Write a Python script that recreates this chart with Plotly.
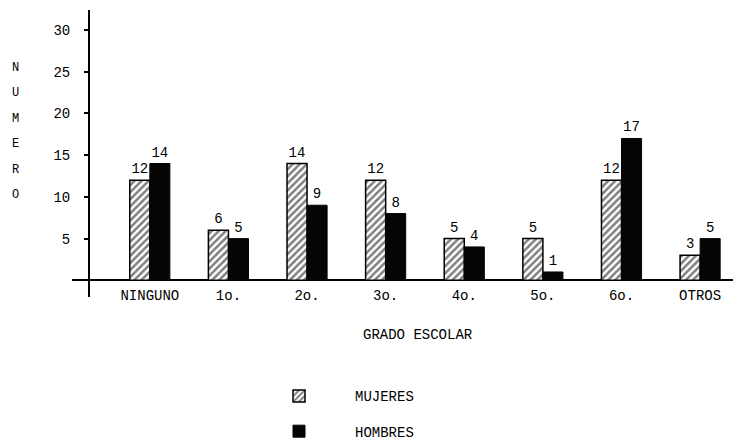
import plotly.graph_objects as go

categories = ["NINGUNO", "1o.", "2o.", "3o.", "4o.", "5o.", "6o.", "OTROS"]
mujeres = [12, 6, 14, 12, 5, 5, 12, 3]
hombres = [14, 5, 9, 8, 4, 1, 17, 5]
y_ticks = [5, 10, 15, 20, 25, 30]
y_title_letters = list("NUMERO")

FONT = "Liberation Mono"
INK = "#000"
OFF = 8                      # page offset from the default body margin
W, H = 741 - OFF, 444 - OFF
plot_top, plot_bottom = 10 - OFF, 296.7 - OFF
plot_h = plot_bottom - plot_top


def px_x(p):
    return (p - OFF) / W


def px_y(p):
    return (plot_bottom - (p - OFF)) / plot_h


fig = go.Figure()
fig.add_trace(go.Bar(
    name="MUJERES", x=categories, y=mujeres,
    text=[str(v) for v in mujeres], textposition="outside",
    textfont=dict(family=FONT, size=14, color=INK),
    marker=dict(color="white", line=dict(color=INK, width=1.5),
                pattern=dict(shape="/", fgcolor=INK, bgcolor="white", size=5, solidity=0.5)),
    cliponaxis=False, legendgroup="m",
))
fig.add_trace(go.Bar(
    name="HOMBRES", x=categories, y=hombres,
    text=[str(v) for v in hombres], textposition="outside",
    textfont=dict(family=FONT, size=14, color=INK),
    marker=dict(color="#050505", line=dict(color="#050505", width=1)),
    cliponaxis=False, legendgroup="h",
))

annotations = []
for i, ch in enumerate(y_title_letters):
    annotations.append(dict(
        text=ch, xref="paper", yref="paper", x=px_x(15), y=px_y(68 + 25.4 * i),
        showarrow=False, xanchor="center", yanchor="middle",
        font=dict(family=FONT, size=12, color=INK),
    ))
annotations.append(dict(
    text="GRADO ESCOLAR", xref="paper", yref="paper", x=px_x(418), y=px_y(335),
    showarrow=False, xanchor="center", yanchor="middle",
    font=dict(family=FONT, size=14, color=INK),
))

fig.update_layout(
    width=W, height=H,
    margin=dict(l=0, r=0, t=plot_top, b=H - plot_bottom, autoexpand=False),
    plot_bgcolor="white", paper_bgcolor="white",
    barmode="group", bargap=0.49, bargroupgap=0,
    font=dict(family=FONT, size=14, color=INK),
    xaxis=dict(domain=[px_x(72), 1], range=[-0.99, 7.52],
               showline=False, showgrid=False, ticks="",
               tickfont=dict(family=FONT, size=14, color=INK),
               ticklabelstandoff=-12),
    yaxis=dict(anchor="free", position=px_x(89), range=[-2, 32.4],
               showline=True, linecolor=INK, linewidth=2,
               showgrid=False, zeroline=True, zerolinecolor=INK, zerolinewidth=2,
               tickvals=y_ticks, ticktext=[str(v) for v in y_ticks],
               ticks="outside", ticklen=4, tickwidth=2, tickcolor=INK,
               tickfont=dict(family=FONT, size=14, color=INK),
               ticklabelstandoff=11),
    showlegend=True,
    legend=dict(x=px_x(243), y=px_y(380),
                xanchor="left", yanchor="top", orientation="v",
                traceorder="grouped", tracegroupgap=14, itemwidth=102,
                font=dict(family=FONT, size=14, color=INK),
                bgcolor="rgba(0,0,0,0)"),
    annotations=annotations,
)

fig.write_html("out.html")
